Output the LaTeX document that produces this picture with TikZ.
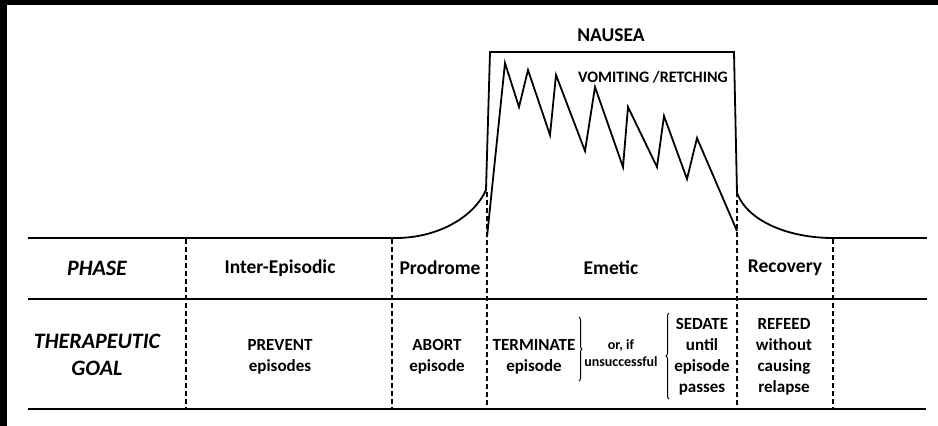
\documentclass[tikz,border=0pt]{standalone}
\usepackage{fontspec}
\setmainfont{Carlito}
\usetikzlibrary{decorations.pathreplacing}

\begin{document}
\begin{tikzpicture}[x=1pt,y=1pt,yscale=-1,xscale=1,
  rowline/.style={line width=2pt},
  sepline/.style={line width=1.3pt, dash pattern=on 5pt off 3pt},
  trace/.style={line width=1.8pt, line join=miter},
  bracket/.style={line width=1pt, decorate, decoration={brace, amplitude=3pt}},
  phasetxt/.style={font=\bfseries\fontsize{19.5}{23}\selectfont, inner sep=0.75pt},
  headtxt/.style={font=\bfseries\itshape\fontsize{22}{27}\selectfont, align=center, inner sep=0.75pt},
  goaltxt/.style={font=\bfseries\fontsize{17}{21}\selectfont, align=center, inner sep=0.75pt},
  smalltxt/.style={font=\bfseries\fontsize{14}{17}\selectfont, align=center, inner sep=0.75pt}]
\useasboundingbox (0,0) rectangle (938,426);
%frame edges
\fill (0,0) rectangle (938,5);
\fill (0,0) rectangle (7,426);

%Straight Lines: rows
\draw [rowline] (28,238) -- (392,238);
\draw [rowline] (833,238) -- (927,238);
\draw [rowline] (28,299) -- (927,299);
\draw [rowline] (28,409) -- (926,409);

%Dashed Lines: phase borders
\draw [sepline] (186,239) -- (186,408);
\draw [sepline] (392,239) -- (392,408);
\draw [sepline] (487,192) -- (487,408);
\draw [sepline] (737,192) -- (737,408);
\draw [sepline] (833,239) -- (833,408);

%Curve Lines: nausea
\draw [trace] (392,238) .. controls (440,239) and (475,215) .. (486,190) -- (490,52) -- (734,52) -- (737,193) .. controls (748,222) and (790,238) .. (833,238);
%Straight Lines: vomiting
\draw [trace] (487,237) -- (505,63) -- (519,107) -- (528,70) -- (550,135) -- (556,75) -- (585,151) -- (595,87) -- (623,167) -- (628,107) -- (657,167) -- (664,116) -- (687,179) -- (697,138) -- (737,231);

% Text Node
\node [phasetxt] (nausea) at (611,35) {NAUSEA};
% Text Node
\node [phasetxt, font=\bfseries\fontsize{16}{19}\selectfont] (vomit) at (653,77) {VOMITING /RETCHING};
% Text Node
\node [headtxt] (phase) at (97,268) {PHASE};
% Text Node
\node [phasetxt] (interep) at (280,268) {Inter-Episodic};
% Text Node
\node [phasetxt] (prodrome) at (440,268) {Prodrome};
% Text Node
\node [phasetxt] (emetic) at (611,268) {Emetic};
% Text Node
\node [phasetxt] (recovery) at (785,268) {Recovery};
% Text Node
\node [headtxt] (goal) at (97,355) {THERAPEUTIC\\GOAL};
% Text Node
\node [goaltxt] (prevent) at (280,357) {PREVENT\\episodes};
% Text Node
\node [goaltxt] (abort) at (437,357) {ABORT\\episode};
% Text Node
\node [goaltxt] (terminate) at (534,357) {TERMINATE\\episode};
% Text Node
\node [smalltxt] (orif) at (621,353) {or, if\\unsuccessful};
% Text Node
\node [goaltxt] (sedate) at (702,357) {SEDATE\\until\\episode\\passes};
% Text Node
\node [goaltxt] (refeed) at (784,357) {REFEED\\without\\causing\\relapse};

%Braces
\draw [bracket] (579,317) -- (579,381);
\draw [bracket] (669,399) -- (669,313);

\end{tikzpicture}
\end{document}
